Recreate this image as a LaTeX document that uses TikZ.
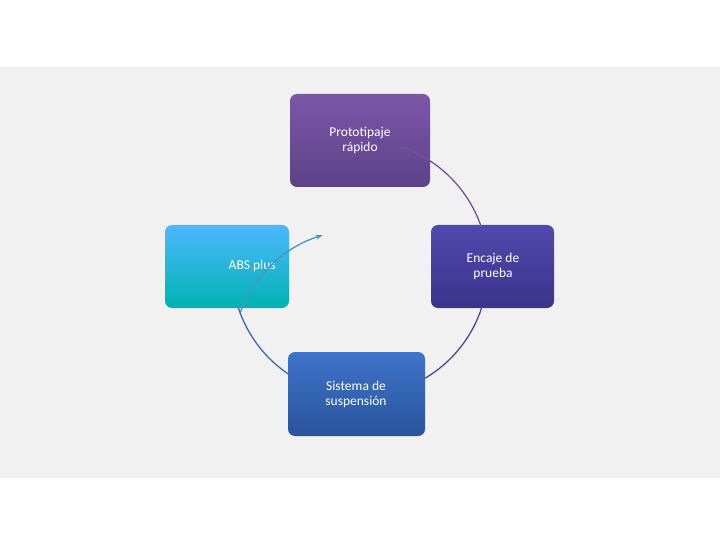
\documentclass[tikz,border=0pt]{standalone}
\usepackage{fontspec}
\setmainfont{Carlito}
\usetikzlibrary{arrows.meta}
\definecolor{bgg}{HTML}{F1F1F2}
\tikzset{
  box/.style={rounded corners=7pt, minimum width=#1, text=white, font=\fontsize{13.5}{15}\selectfont, align=center, inner sep=0pt},
  ring/.style={line width=1.3pt},
}
\begin{document}
\begin{tikzpicture}[x=1pt,y=-1pt]
\useasboundingbox (0,0) rectangle (720,540);
\fill[white] (0,0) rectangle (720,540);
\fill[bgg] (0,67) rectangle (720,478);
\coordinate (c) at (360,268);
\def\R{128}
% boxes
\shade[rounded corners=7pt, top color=cyan!60!blue!70!white, bottom color=cyan!70!black, shading angle=0] (165,225) rectangle (289,308);
\node[box=124pt, anchor=west] (abs) at (190,266) {ABS plus};
\shade[rounded corners=7pt, top color={rgb,255:red,124;green,86;blue,168}, bottom color={rgb,255:red,92;green,66;blue,138}] (290,94) rectangle (430,187);
\node[box=0pt] (proto) at (360,140) {Prototipaje\\rápido};
\shade[rounded corners=7pt, top color={rgb,255:red,82;green,72;blue,172}, bottom color={rgb,255:red,58;green,52;blue,140}] (431,225) rectangle (554,308);
\node[box=0pt] (enc) at (493,266) {Encaje de\\prueba};
\shade[rounded corners=7pt, top color={rgb,255:red,62;green,116;blue,202}, bottom color={rgb,255:red,42;green,84;blue,156}] (288,352) rectangle (425,436);
\node[box=0pt] (sis) at (356,394) {Sistema de\\suspensión};
% ring arcs
\draw[ring, color={rgb,255:red,70;green,150;blue,190}, -{Stealth[length=7pt,width=5pt]}] ([shift={(159.5:\R)}]c) arc[start angle=-159.5, end angle=-107, radius=\R];
\draw[ring, color={rgb,255:red,110;green,85;blue,160}] ([shift={(-73:\R)}]c) arc[start angle=-73, end angle=-19, radius=\R];
\draw[ring, color={rgb,255:red,80;green,70;blue,160}] ([shift={(17.6:\R)}]c) arc[start angle=17.6, end angle=59.4, radius=\R];
\draw[ring, color={rgb,255:red,70;green,100;blue,180}] ([shift={(116.6:\R)}]c) arc[start angle=116.6, end angle=162, radius=\R];
\end{tikzpicture}
\end{document}
